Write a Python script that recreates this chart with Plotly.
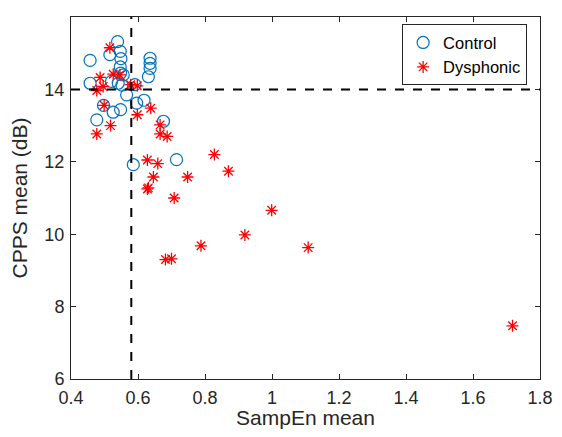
import plotly.graph_objects as go

control_x = [0.539, 0.547, 0.549, 0.547, 0.548, 0.516, 0.457, 0.636, 0.636, 0.636, 0.631,
             0.457, 0.521, 0.541, 0.556, 0.552, 0.566, 0.591, 0.596, 0.618, 0.497, 0.526,
             0.548, 0.477, 0.676, 0.586, 0.715]
control_y = [15.32, 15.05, 14.85, 14.62, 14.45, 14.96, 14.80, 14.86, 14.72, 14.58, 14.35,
             14.17, 14.22, 14.17, 14.40, 14.12, 13.85, 14.13, 13.62, 13.70, 13.56, 13.37,
             13.44, 13.16, 13.12, 11.92, 12.06]

dys_x = [0.516, 0.487, 0.526, 0.546, 0.496, 0.477, 0.578, 0.598, 0.499, 0.518, 0.477,
         0.598, 0.638, 0.666, 0.666, 0.687, 0.628, 0.659, 0.646, 0.628, 0.631, 0.748,
         0.708, 0.828, 0.870, 0.999, 0.919, 0.788, 1.108, 0.700, 0.682, 1.718]
dys_y = [15.15, 14.33, 14.42, 14.40, 14.08, 13.97, 14.13, 14.10, 13.56, 13.00, 12.77,
         13.30, 13.48, 13.02, 12.77, 12.70, 12.05, 11.95, 11.58, 11.25, 11.28, 11.58,
         11.00, 12.20, 11.74, 10.66, 9.98, 9.68, 9.63, 9.32, 9.30, 7.47]

x_ticks = [0.4, 0.6, 0.8, 1.0, 1.2, 1.4, 1.6, 1.8]
x_ticktext = ["0.4", "0.6", "0.8", "1", "1.2", "1.4", "1.6", "1.8"]
y_ticks = [6, 8, 10, 12, 14, 16]

x_threshold = 0.58
y_threshold = 14.0

fig = go.Figure()
fig.add_trace(go.Scatter(
    x=control_x, y=control_y, mode="markers", name="Control",
    marker=dict(symbol="circle-open", size=12, color="#0072BD", line=dict(width=1.2)),
))
fig.add_trace(go.Scatter(
    x=dys_x, y=dys_y, mode="markers", name="Dysphonic",
    marker=dict(symbol="asterisk-open", size=10, color="#FF0000", line=dict(width=1.3, color="#FF0000")),
))

fig.add_shape(type="line", xref="x", yref="paper", x0=x_threshold, x1=x_threshold, y0=0, y1=1,
              line=dict(color="black", width=2, dash="dash"))
fig.add_shape(type="line", xref="paper", yref="y", x0=0, x1=1, y0=y_threshold, y1=y_threshold,
              line=dict(color="black", width=2, dash="dash"))

axis_common = dict(
    showgrid=False, zeroline=False, showline=True, linecolor="#262626", linewidth=1,
    mirror="ticks", ticks="inside", ticklen=5, tickcolor="#262626", automargin=False,
    tickfont=dict(family="Liberation Sans, Arial", size=18, color="#262626"),
)

fig.update_layout(
    width=546, height=421,
    margin=dict(l=63, r=14, t=9, b=50),
    paper_bgcolor="white", plot_bgcolor="white",
    font=dict(family="Liberation Sans, Arial", color="#262626"),
    xaxis=dict(range=[0.4, 1.8], tickvals=x_ticks, ticktext=x_ticktext, ticklabelstandoff=2,
               title=dict(text="SampEn mean", font=dict(size=21, color="#262626"), standoff=8),
               **axis_common),
    yaxis=dict(range=[6, 16], tickvals=y_ticks, ticklabelstandoff=2,
               title=dict(text="CPPS mean (dB)", font=dict(size=21, color="#262626"), standoff=14),
               **axis_common),
    legend=dict(x=0.706, y=0.98, xanchor="left", yanchor="top",
                bordercolor="#262626", borderwidth=1, bgcolor="white",
                font=dict(size=16.5, color="black"), tracegroupgap=0,
                itemwidth=30),
    showlegend=True,
)

fig.write_html("out.html")
